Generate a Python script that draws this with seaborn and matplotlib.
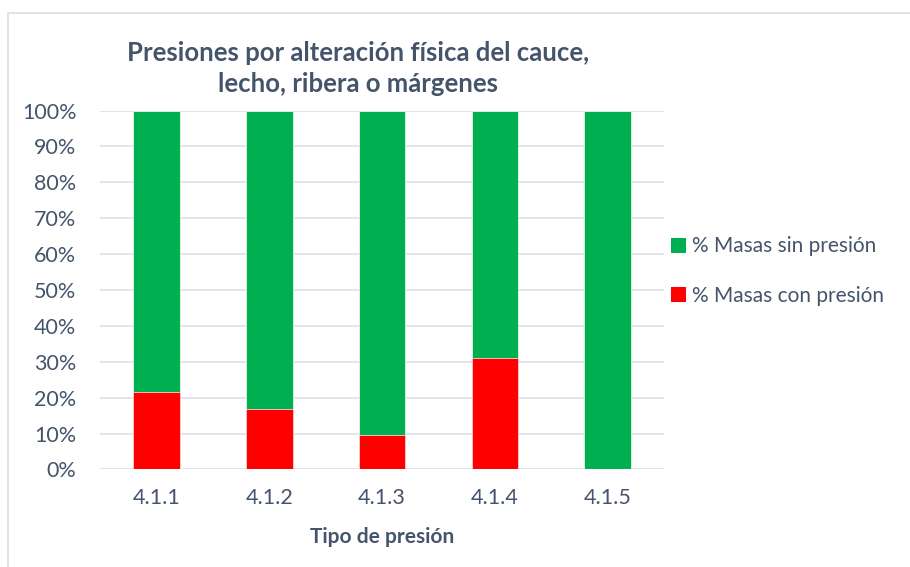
import matplotlib
matplotlib.use("Agg")
import matplotlib.pyplot as plt
import seaborn as sns
import pandas as pd
from matplotlib.patches import Patch
from matplotlib.lines import Line2D

categories = ["4.1.1", "4.1.2", "4.1.3", "4.1.4", "4.1.5"]
con_presion = [21.7, 16.8, 9.5, 31.1, 0.0]
sin_presion = [100 - v for v in con_presion]
yticks = [0, 10, 20, 30, 40, 50, 60, 70, 80, 90, 100]

sns.set_theme(style="white")
plt.rcParams['font.family'] = ['Lato', 'DejaVu Sans']

GREEN = "#00B050"
RED = "#FF0000"
TXT = "#44546A"
GRID = "#DDE2E9"

df = pd.DataFrame({"cat": categories, "con": con_presion, "sin": sin_presion})
df["total"] = df["con"] + df["sin"]

fig = plt.figure(figsize=(9.1, 5.67), dpi=100)
ax = fig.add_axes([0.1099, 0.172, 0.62, 0.633])

sns.barplot(data=df, x="cat", y="total", color=GREEN, saturation=1, width=0.414,
            edgecolor="#E6F4EA", linewidth=0.6, ax=ax, zorder=2)
sns.barplot(data=df, x="cat", y="con", color=RED, saturation=1, width=0.414,
            edgecolor="#FFD0D0", linewidth=0.6, ax=ax, zorder=3)

ax.set_ylim(0, 100)
ax.set_xlim(-0.5, len(categories) - 0.5)
ax.set_yticks(yticks)
ax.set_yticklabels([f"{v}%" for v in yticks], fontsize=15.5, color=TXT)
ax.tick_params(axis="y", length=0, pad=17)
ax.tick_params(axis="x", length=0, pad=13, labelsize=15.5, labelcolor=TXT)
ax.yaxis.grid(True, color=GRID, linewidth=1.2, zorder=0)
ax.set_axisbelow(True)
for s in ax.spines.values():
    s.set_visible(False)
ax.set_ylabel("")
ax.set_xlabel("Tipo de presión", fontsize=15, fontweight="bold", color=TXT, labelpad=14)

fig.text(0.393, 0.879, "Presiones por alteración física del cauce,\nlecho, ribera o márgenes",
         ha="center", va="center", fontsize=18.5, fontweight="bold", color=TXT,
         linespacing=1.33)

handles = [Patch(facecolor=GREEN, edgecolor="none"), Patch(facecolor=RED, edgecolor="none")]
fig.legend(handles, ["% Masas sin presión", "% Masas con presión"],
           loc="center left", bbox_to_anchor=(0.717, 0.522), frameon=False,
           fontsize=15, labelcolor=TXT, handlelength=0.72, handleheight=0.72,
           handletextpad=0.3, labelspacing=1.4)

# chart area border (left and top)
fig.add_artist(Line2D([0.009, 0.009], [0.0, 0.977], color="#D9DEE6", linewidth=1.2))
fig.add_artist(Line2D([0.009, 1.0], [0.977, 0.977], color="#D9DEE6", linewidth=1.2))

fig.savefig("out.png", dpi=100)
